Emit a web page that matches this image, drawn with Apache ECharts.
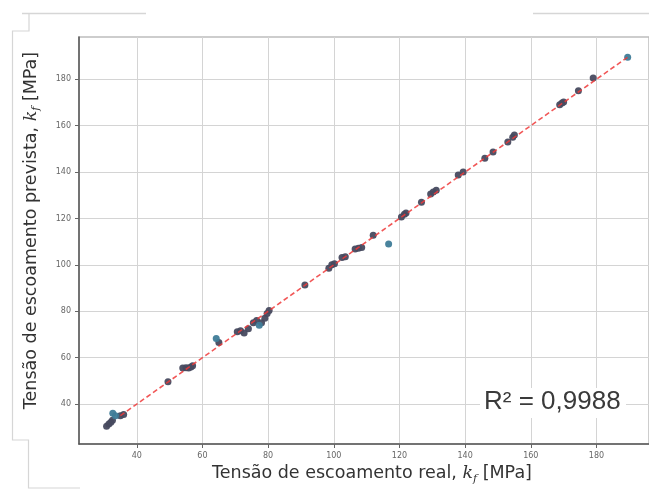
<!DOCTYPE html>
<html>
<head>
<meta charset="utf-8">
<script src="https://cdn.jsdelivr.net/npm/echarts@6/dist/echarts.min.js"></script>
<style>
html,body{margin:0;padding:0;background:#fff;}
#c{width:649px;height:493px;}
</style>
</head>
<body>
<div id="c"></div>
<script>
// ---- data ----
var xTicks = [40, 60, 80, 100, 120, 140, 160, 180];
var yTicks = [40, 60, 80, 100, 120, 140, 160, 180];
var xRange = [22.4, 196.0];
var yRange = [22.8, 198.2];
var darkPoints = [
  [30.8,30.5],[31.5,31.4],[32.1,32.2],[32.6,33.0],[35.0,35.0],[36.0,35.5],
  [49.5,49.6],
  [54.0,55.5],[55.0,55.7],[55.8,55.6],[56.5,56.0],[57.0,56.5],
  [65.0,66.5],
  [70.6,71.2],[71.6,71.6],[72.7,70.6],[74.0,72.5],[75.5,75.0],[76.5,76.0],
  [78.0,75.0],[79.0,77.0],[79.7,79.0],[80.3,80.3],
  [91.2,91.3],
  [98.5,98.5],[99.4,100.0],[100.2,100.5],[102.5,103.2],[103.5,103.5],
  [106.5,106.8],[107.5,107.2],[108.5,107.5],
  [112.0,112.8],
  [120.6,120.6],[121.5,121.8],[122.0,122.3],
  [126.7,127.0],
  [129.5,130.5],[130.3,131.4],[131.2,132.2],
  [137.9,138.7],[139.4,140.0],
  [146.0,146.0],[148.5,148.6],
  [153.0,153.0],[154.5,155.0],[155.0,156.0],
  [168.8,169.0],[169.5,169.8],[170.0,170.2],
  [174.5,175.0],
  [179.0,180.5]
];
var bluePoints = [
  [32.7,36.0],[33.5,35.0],[64.2,68.3],[77.3,74.0],[116.7,109.0],[189.5,189.5]
];
var idealLine = [[35, 35], [190, 190]];
var r2Text = 'R² = 0,9988';
var xTitle = 'Tensão de escoamento real, ';
var yTitle = 'Tensão de escoamento prevista, ';

// ---- chart ----
var chart = echarts.init(document.getElementById('c'), null, {renderer: 'canvas'});
var tickLabelStyle = {fontSize: 8, color: '#666', fontFamily: 'DejaVu Sans'};
var titleRich = {
  t: {fontSize: 17.5, color: '#333', fontFamily: 'DejaVu Sans'},
  i: {fontSize: 17.5, color: '#333', fontFamily: 'DejaVu Serif', fontStyle: 'italic'},
  s: {fontSize: 11, color: '#333', fontFamily: 'DejaVu Serif', fontStyle: 'italic', verticalAlign: 'bottom', padding: [11, 0, 0, 0]}
};
var frameColor = '#d6d6d6';
chart.setOption({
  animation: false,
  backgroundColor: '#fff',
  grid: {left: 79, right: -3, top: 37, bottom: 49, show: true, borderColor: '#bdbdbd', borderWidth: 1.5, backgroundColor: 'transparent'},
  xAxis: {
    type: 'value', min: xRange[0], max: xRange[1],
    axisLine: {show: true, onZero: false, lineStyle: {color: '#555', width: 1.5}},
    axisTick: {show: true, customValues: xTicks, length: 4, lineStyle: {color: '#666'}},
    axisLabel: Object.assign({customValues: xTicks, margin: 8}, tickLabelStyle),
    splitLine: {show: true, lineStyle: {color: '#d4d4d4', width: 1}},
    name: '{t|' + xTitle + '}{i|k}{s|f}{t| [MPa]}',
    nameLocation: 'middle', nameGap: 18,
    nameTextStyle: {rich: titleRich, padding: [0, 0, 0, 16]}
  },
  yAxis: {
    type: 'value', min: yRange[0], max: yRange[1],
    axisLine: {show: true, onZero: false, lineStyle: {color: '#555', width: 1.5}},
    axisTick: {show: true, customValues: yTicks, length: 4, lineStyle: {color: '#666'}},
    axisLabel: Object.assign({customValues: yTicks, margin: 8}, tickLabelStyle),
    splitLine: {show: true, lineStyle: {color: '#d4d4d4', width: 1}},
    name: '{t|' + yTitle + '}{i|k}{s|f}{t| [MPa]}',
    nameLocation: 'middle', nameGap: 37, nameRotate: 90,
    nameTextStyle: {rich: titleRich, padding: [0, 0, 0, 20]}
  },
  series: [
    {type: 'scatter', data: darkPoints, symbolSize: 7, itemStyle: {color: '#474a5f', opacity: 0.95}, z: 3},
    {type: 'scatter', data: bluePoints, symbolSize: 7, itemStyle: {color: '#3f7c98', opacity: 0.95}, z: 3},
    {type: 'line', data: idealLine, symbol: 'none', z: 4,
     lineStyle: {color: '#ee3a3a', width: 1.6, type: [5, 3], opacity: 0.85}}
  ],
  graphic: [
    {type: 'rect', left: 480, top: 388, shape: {width: 146, height: 30}, style: {fill: '#fff'}, z: 100},
    {type: 'text', left: 484, top: 389, z: 101,
     style: {text: r2Text, fontSize: 26, fill: '#3a3a3a', fontFamily: 'Liberation Sans'}},
    {type: 'polyline', z: 90, shape: {points: [[22, 13.5], [146, 13.5]]}, style: {stroke: frameColor, lineWidth: 1.5, fill: null}},
    {type: 'polyline', z: 90, shape: {points: [[533, 13.5], [649, 13.5]]}, style: {stroke: frameColor, lineWidth: 1.5, fill: null}},
    {type: 'polyline', z: 90, shape: {points: [[29, 13.5], [29, 31], [12.5, 31], [12.5, 440], [28.5, 440], [28.5, 488], [80, 488]]}, style: {stroke: frameColor, lineWidth: 1.2, fill: null}}
  ]
});
</script>
</body>
</html>
